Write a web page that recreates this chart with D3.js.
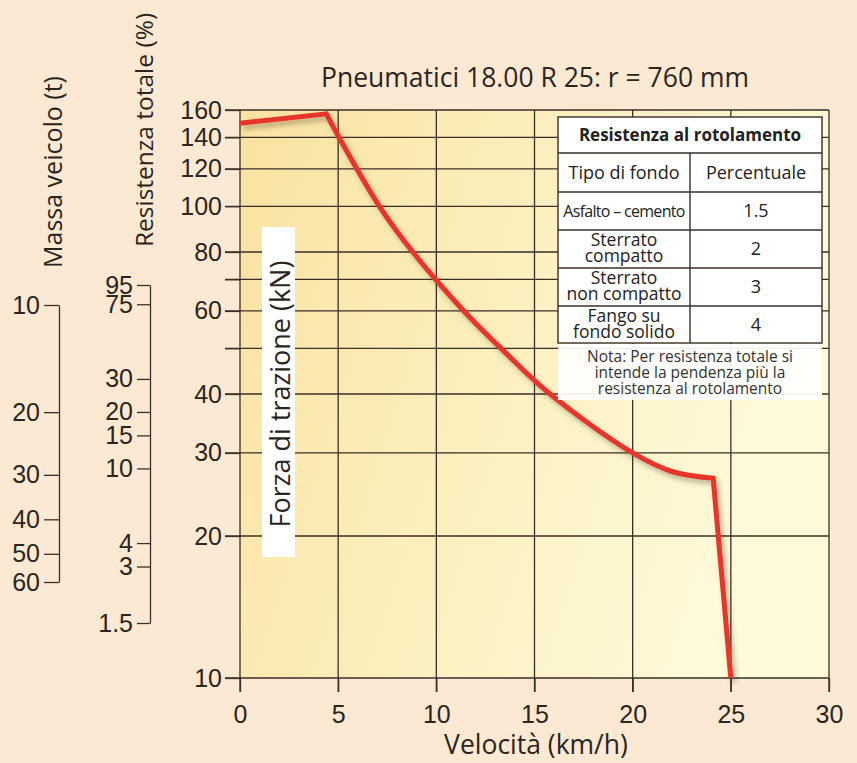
<!DOCTYPE html>
<html>
<head>
<meta charset="utf-8">
<script src="https://cdn.jsdelivr.net/npm/d3@7"></script>
<style>
  body { margin: 0; background: #fce9d4; }
  svg { display: block; font-family: "Open Sans", "Noto Sans", sans-serif; }
  .axis text { fill: #2b2520; }
  .axis line, .axis path { stroke: #3a2f27; stroke-width: 1.3; }
</style>
</head>
<body>
<div id="chart"></div>
<script>
// chart values
var speed = [0, 4.4, 5, 7.1, 8.8, 11.4, 13.4, 15.7, 20, 22, 24.1, 25];
var force = [150, 157, 141, 100, 80, 60, 49.5, 40.3, 30, 27.4, 26.5, 10];

var xTicks = [0, 5, 10, 15, 20, 25, 30];
var yGrid = [10, 20, 30, 40, 50, 60, 70, 80, 100, 120, 140, 160];
var yLabels = [10, 20, 30, 40, 60, 80, 100, 120, 140, 160];

var massTicks = [10, 20, 30, 40, 50, 60];
var resTicks = [95, 75, 30, 20, 15, 10, 4, 3, 1.5];

var tableTitle = "Resistenza al rotolamento";
var tableHead = ["Tipo di fondo", "Percentuale"];
var surfaces = [["Asfalto – cemento"], ["Sterrato", "compatto"], ["Sterrato", "non compatto"], ["Fango su", "fondo solido"]];
var percents = ["1.5", "2", "3", "4"];
var noteLines = ["Nota: Per resistenza totale si", "intende la pendenza più la", "resistenza al rotolamento"];

var svgWidth = 857;
var svgHeight = 763;
var plot = {left: 240, right: 829, top: 110, bottom: 678};

var svg = d3.select("#chart")
  .append("svg")
  .attr("width", svgWidth)
  .attr("height", svgHeight);

var defs = svg.append("defs");
var grad = defs.append("linearGradient").attr("id", "bg").attr("x1", 0).attr("x2", 1).attr("y1", 0).attr("y2", 0.3);
grad.append("stop").attr("offset", "0%").attr("stop-color", "#f9e2a2");
grad.append("stop").attr("offset", "45%").attr("stop-color", "#fbeebb");
grad.append("stop").attr("offset", "100%").attr("stop-color", "#fefad9");

var shadow = defs.append("filter").attr("id", "shadow").attr("x", "-10%").attr("y", "-10%").attr("width", "130%").attr("height", "130%");
shadow.append("feDropShadow").attr("dx", 3).attr("dy", 4).attr("stdDeviation", 2.5)
  .attr("flood-color", "#5a4a30").attr("flood-opacity", 0.4);

// scales
var x = d3.scaleLinear().domain([0, 30]).range([plot.left, plot.right]);
var y = d3.scaleLog().domain([10, 160]).range([plot.bottom, plot.top]);
var massScale = d3.scaleLog().domain([10, 60]).range([305, 582]);
var resScale = d3.scaleLog().domain([1.5, 95]).range([623, 285]);

// plot background
svg.append("rect")
  .attr("x", plot.left).attr("y", plot.top)
  .attr("width", plot.right - plot.left).attr("height", plot.bottom - plot.top)
  .attr("fill", "url(#bg)");

// grid
var grid = svg.append("g").attr("stroke", "#3a2f27").attr("stroke-width", 1.3);
grid.selectAll("line.h").data(yGrid).enter().append("line")
  .attr("class", "h")
  .attr("x1", plot.left - 15).attr("x2", plot.right)
  .attr("y1", d => y(d)).attr("y2", d => y(d));
grid.selectAll("line.v").data(xTicks).enter().append("line")
  .attr("class", "v")
  .attr("x1", d => x(d)).attr("x2", d => x(d))
  .attr("y1", plot.top).attr("y2", plot.bottom + 14);

// axes labels (ticks drawn by grid)
var bottomAxis = d3.axisBottom(x).tickValues(xTicks).tickSize(14).tickPadding(13);
var xAxis = svg.append("g").attr("class", "axis")
  .attr("transform", `translate(0, ${plot.bottom})`)
  .call(bottomAxis);
xAxis.select(".domain").remove();
xAxis.selectAll("text").style("font-size", "25px");

var leftAxis = d3.axisLeft(y).tickValues(yGrid).tickSize(15).tickPadding(3)
  .tickFormat(d => yLabels.indexOf(d) >= 0 ? d : "");
var yAxis = svg.append("g").attr("class", "axis")
  .attr("transform", `translate(${plot.left}, 0)`)
  .call(leftAxis);
yAxis.select(".domain").remove();
yAxis.selectAll("text").style("font-size", "25px");

// nomogram scales
var massAxis = svg.append("g").attr("class", "axis")
  .attr("transform", "translate(59, 0)")
  .call(d3.axisLeft(massScale).tickValues(massTicks).tickSize(15).tickSizeOuter(0).tickPadding(4).tickFormat(d => d));
massAxis.selectAll("text").style("font-size", "25px");

var resAxis = svg.append("g").attr("class", "axis")
  .attr("transform", "translate(150, 0)")
  .call(d3.axisLeft(resScale).tickValues(resTicks).tickSize(13).tickSizeOuter(0).tickPadding(4).tickFormat(d => d));
resAxis.selectAll("text").style("font-size", "25px");

// curve: straight to the peak, smooth fall, straight drop at the end
var pts = speed.map((s, i) => [s, force[i]]);
var peak = 1, knee = speed.length - 2;
var straight = d3.line().x(d => x(d[0])).y(d => y(d[1]));
var smooth = d3.line().x(d => x(d[0])).y(d => y(d[1])).curve(d3.curveCatmullRom.alpha(0.5));
var pathD = straight(pts.slice(0, peak + 1)) +
  smooth(pts.slice(peak, knee + 1)).replace(/^M[^CL]*/, "") +
  straight(pts.slice(knee)).replace(/^M[^L]*/, "");
svg.append("path")
  .attr("d", pathD)
  .attr("fill", "none")
  .attr("stroke", "#e8342a")
  .attr("stroke-width", 5)
  .attr("stroke-linejoin", "miter")
  .attr("filter", "url(#shadow)");

// forza label box
svg.append("rect")
  .attr("x", 262).attr("y", 227).attr("width", 33).attr("height", 330)
  .attr("fill", "#ffffff");
svg.append("text")
  .attr("transform", "translate(279, 394) rotate(-90)")
  .attr("text-anchor", "middle")
  .attr("dominant-baseline", "central")
  .style("font-size", "27px")
  .attr("fill", "#2b2520")
  .text("Forza di trazione (kN)");

// titles
svg.append("text")
  .attr("x", 535).attr("y", 87)
  .attr("text-anchor", "middle")
  .style("font-size", "26.5px")
  .attr("fill", "#2b2520")
  .text("Pneumatici 18.00 R 25: r = 760 mm");

svg.append("text")
  .attr("x", 536).attr("y", 754)
  .attr("text-anchor", "middle")
  .style("font-size", "26.5px")
  .attr("fill", "#2b2520")
  .text("Velocità (km/h)");

svg.append("text")
  .attr("transform", "translate(62, 172) rotate(-90)")
  .attr("text-anchor", "middle")
  .style("font-size", "25px")
  .attr("fill", "#2b2520")
  .text("Massa veicolo (t)");

svg.append("text")
  .attr("transform", "translate(153, 130) rotate(-90)")
  .attr("text-anchor", "middle")
  .style("font-size", "24.5px")
  .attr("fill", "#2b2520")
  .text("Resistenza totale (%)");

// rolling resistance table
var tbl = {left: 558, right: 822, top: 117, mid: 690};
var rowTops = [117, 153, 192, 230, 268, 306, 343];
var table = svg.append("g");

table.append("rect")
  .attr("x", tbl.left).attr("y", rowTops[6] + 1)
  .attr("width", tbl.right - tbl.left).attr("height", 56)
  .attr("fill", "#ffffff").attr("opacity", 0.92);

table.append("rect")
  .attr("x", tbl.left).attr("y", tbl.top)
  .attr("width", tbl.right - tbl.left).attr("height", rowTops[6] - tbl.top)
  .attr("fill", "#ffffff").attr("stroke", "#3a2f27").attr("stroke-width", 1.4);

table.selectAll("line.row").data(rowTops.slice(1, 6)).enter().append("line")
  .attr("x1", tbl.left).attr("x2", tbl.right)
  .attr("y1", d => d).attr("y2", d => d)
  .attr("stroke", "#3a2f27").attr("stroke-width", 1.4);
table.append("line")
  .attr("x1", tbl.mid).attr("x2", tbl.mid)
  .attr("y1", rowTops[1]).attr("y2", rowTops[6])
  .attr("stroke", "#3a2f27").attr("stroke-width", 1.4);

table.append("text")
  .attr("x", (tbl.left + tbl.right) / 2).attr("y", 141)
  .attr("text-anchor", "middle")
  .style("font-size", "17px").style("font-weight", "bold")
  .attr("fill", "#222")
  .text(tableTitle);

table.selectAll("text.head").data(tableHead).enter().append("text")
  .attr("x", (d, i) => i === 0 ? (tbl.left + tbl.mid) / 2 : (tbl.mid + tbl.right) / 2)
  .attr("y", 179)
  .attr("text-anchor", "middle")
  .style("font-size", "18px")
  .attr("fill", "#222")
  .text(d => d);

surfaces.forEach(function(lines, i) {
  var cy = (rowTops[i + 2] + rowTops[i + 3]) / 2;
  var t = table.append("text")
    .attr("x", (tbl.left + tbl.mid) / 2)
    .attr("text-anchor", "middle")
    .attr("fill", "#222");
  if (lines.length === 1) {
    t.attr("y", cy + 6).style("font-size", "16px").style("letter-spacing", "-0.7px").text(lines[0]);
  } else {
    t.style("font-size", "17.5px");
    lines.forEach(function(l, j) {
      t.append("tspan").attr("x", (tbl.left + tbl.mid) / 2)
        .attr("y", cy - 3 + j * 16)
        .text(l);
    });
  }
  table.append("text")
    .attr("x", (tbl.mid + tbl.right) / 2).attr("y", cy + 6)
    .attr("text-anchor", "middle")
    .style("font-size", "18px")
    .attr("fill", "#222")
    .text(percents[i]);
});

table.selectAll("text.note").data(noteLines).enter().append("text")
  .attr("x", (tbl.left + tbl.right) / 2)
  .attr("y", (d, i) => 362 + i * 16)
  .attr("text-anchor", "middle")
  .style("font-size", "15.5px")
  .attr("fill", "#333")
  .text(d => d);
</script>
</body>
</html>
